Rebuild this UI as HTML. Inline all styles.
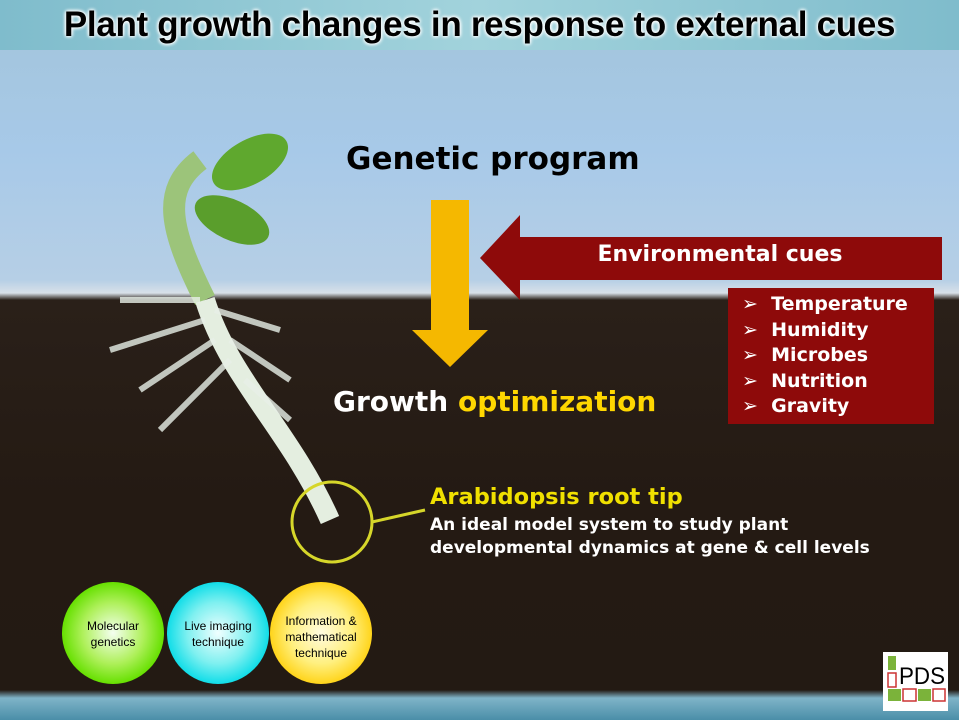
<!DOCTYPE html>
<html><head><style>
body{margin:0;width:959px;height:720px;overflow:hidden;font-family:"Liberation Sans",sans-serif}
.a{position:absolute}
.d{font-family:"DejaVu Sans",sans-serif;font-weight:bold}
</style></head><body>
<div class="a" style="left:0;top:0;width:959px;height:720px;background:linear-gradient(#9fc8d8 0,#a4c6df 50px,#a7c9e8 150px,#b6cfe6 280px,#d8e0e8 293px,#2a2019 300px,#241a13 500px,#231a13 690px,#7fb4c8 698px,#4a8ea8 720px)"></div>
<div class="a" style="left:0;top:0;width:959px;height:50px;background:linear-gradient(90deg,#7fbccc,#a2d3dc 50%,#7fbccc)"></div>
<div class="a" style="left:0;top:5px;width:959px;text-align:center;font-size:35px;font-weight:bold;color:#000;text-shadow:0 0 4px #fff,0 0 4px #fff,0 0 3px #fff;letter-spacing:-0.3px">Plant growth changes in response to external cues</div>
<svg class="a" style="left:0;top:0" width="959" height="720">
<path d="M205 300 C170 230 160 190 200 160" stroke="#9cc47a" stroke-width="22" fill="none"/>
<ellipse cx="250" cy="162" rx="42" ry="22" fill="#5fa82e" transform="rotate(-30 250 162)"/>
<ellipse cx="232" cy="220" rx="40" ry="20" fill="#5a9e2c" transform="rotate(25 232 220)"/>
<path d="M205 300 C230 380 290 430 330 520" stroke="#e4eee0" stroke-width="20" fill="none"/>
<path d="M200 300 L120 300 M205 320 L110 350 M215 340 L140 390 M230 360 L160 430 M215 310 L280 330 M230 340 L290 380 M245 380 L290 420" stroke="#e8f0e8" stroke-width="6" opacity=".8"/>
<path d="M431 200H469V330H488L450 367L412 330H431Z" fill="#f5b800"/>
<path d="M480 258L520 215V237H942V280H520V300Z" fill="#8e0a0a"/>
<circle cx="332" cy="522" r="40" fill="none" stroke="#d6d62a" stroke-width="3"/>
<line x1="372" y1="522" x2="425" y2="510" stroke="#d6d62a" stroke-width="3"/>
<defs>
<radialGradient id="g1"><stop offset="0" stop-color="#f4fff0"/><stop offset=".6" stop-color="#aef05a"/><stop offset="1" stop-color="#66e000"/></radialGradient>
<radialGradient id="g2"><stop offset="0" stop-color="#f0ffff"/><stop offset=".6" stop-color="#7ff0f0"/><stop offset="1" stop-color="#10dde8"/></radialGradient>
<radialGradient id="g3"><stop offset="0" stop-color="#fffbe0"/><stop offset=".6" stop-color="#fff080"/><stop offset="1" stop-color="#ffd41a"/></radialGradient>
</defs>
<ellipse cx="113" cy="633" rx="51" ry="51" fill="url(#g1)"/>
<ellipse cx="218" cy="633" rx="51" ry="51" fill="url(#g2)"/>
<ellipse cx="321" cy="633" rx="51" ry="51" fill="url(#g3)"/>
<rect x="883" y="652" width="65" height="59" fill="#fff"/>
<rect x="888" y="656" width="8" height="14" fill="#7bb33a"/><rect x="888" y="673" width="8" height="14" fill="none" stroke="#c33" stroke-width="1.5"/>
<rect x="888" y="689" width="13" height="12" fill="#7bb33a"/><rect x="903" y="689" width="13" height="12" fill="none" stroke="#c33" stroke-width="1.5"/><rect x="918" y="689" width="13" height="12" fill="#7bb33a"/><rect x="933" y="689" width="12" height="12" fill="none" stroke="#c33" stroke-width="1.5"/>
<text x="899" y="684" font-family="Liberation Sans Narrow, Liberation Sans" font-size="24" textLength="46" lengthAdjust="spacingAndGlyphs" fill="#000">PDS</text>
</svg>
<div class="a d" style="left:346px;top:141px;font-size:31px;color:#000">Genetic program</div>
<div class="a d" style="left:520px;top:242px;width:400px;text-align:center;font-size:22px;color:#fff">Environmental cues</div>
<div class="a d" style="left:728px;top:288px;width:206px;height:136px;background:#8e0a0a;color:#fff;font-size:19px;line-height:25.5px;padding-top:4px;padding-left:14px;box-sizing:border-box">
<div>➢&nbsp; Temperature</div><div>➢&nbsp; Humidity</div><div>➢&nbsp; Microbes</div><div>➢&nbsp; Nutrition</div><div>➢&nbsp; Gravity</div></div>
<div class="a d" style="left:333px;top:385px;font-size:28px;color:#fff">Growth <span style="color:#ffd700">optimization</span></div>
<div class="a d" style="left:430px;top:484px;font-size:22.5px;color:#f0e000">Arabidopsis root tip</div>
<div class="a d" style="left:430px;top:514px;font-size:17px;color:#fff;line-height:23px">An ideal model system to study plant<br>developmental dynamics at gene &amp; cell levels</div>
<div class="a" style="left:62px;top:618px;width:102px;text-align:center;font-size:12px;line-height:16px">Molecular<br>genetics</div>
<div class="a" style="left:167px;top:618px;width:102px;text-align:center;font-size:12px;line-height:16px">Live imaging<br>technique</div>
<div class="a" style="left:270px;top:613px;width:102px;text-align:center;font-size:12px;line-height:16px">Information &amp;<br>mathematical<br>technique</div>
</body></html>
